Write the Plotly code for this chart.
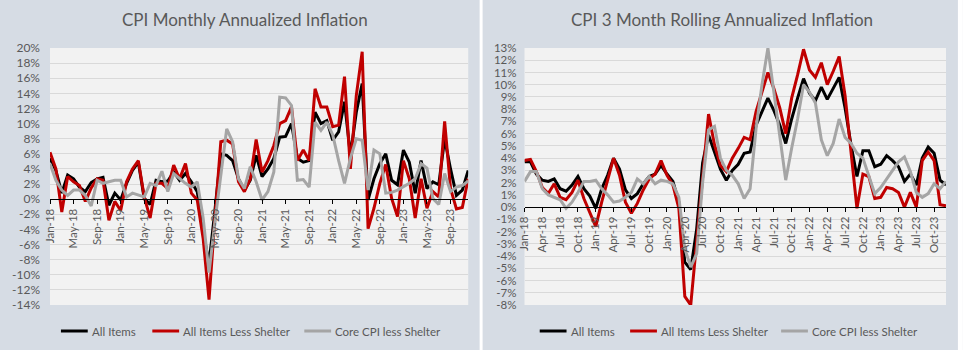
import plotly.graph_objects as go

# ---------------- data ----------------
mon_names = ["Jan", "Feb", "Mar", "Apr", "May", "Jun", "Jul", "Aug", "Sep", "Oct", "Nov", "Dec"]
years = ["18", "19", "20", "21", "22", "23"]
months = [f"{m}-{y}" for y in years for m in mon_names]

series_names = ["All Items", "All Items Less Shelter", "Core CPI less Shelter"]

# CPI monthly annualized inflation (%)
m_all = [5.4, 3.8, 0.8, 3.2, 2.7, 1.6, 1.0, 2.2, 2.7, 2.9, -0.8, 0.8,
         -0.1, 2.1, 3.8, 4.9, 0.1, -0.7, 2.5, 2.3, 2.4, 3.6, 2.5, 3.4,
         2.3, 1.0, -4.3, -8.5, -1.5, 6.0, 5.8, 5.1, 2.7, 1.2, 2.5, 5.8,
         3.0, 4.0, 5.4, 8.2, 8.3, 10.0, 5.4, 4.9, 5.1, 11.5, 10.0, 10.4,
         7.8, 8.9, 12.9, 5.8, 11.5, 15.3, -0.1, 2.7, 4.7, 6.0, 2.5, 1.9,
         6.5, 4.9, 0.8, 5.1, 1.4, 2.3, 1.9, 8.0, 4.0, 0.5, 1.2, 3.8]
m_less_shelter = [6.2, 4.0, -1.7, 3.0, 2.3, 1.8, -0.3, 1.5, 2.7, 2.5, -2.8, -0.3,
                  -1.5, 2.3, 4.0, 5.1, 0.3, -2.5, 2.1, 2.1, 1.4, 4.5, 2.7, 4.7,
                  0.8, -0.1, -5.2, -13.3, -2.5, 7.6, 7.8, 7.3, 2.3, 1.0, 2.7, 7.9,
                  3.6, 5.1, 7.1, 10.0, 10.4, 12.2, 5.1, 6.5, 5.1, 14.6, 12.2, 12.2,
                  9.6, 9.8, 16.2, 4.0, 13.7, 19.5, -3.9, -1.2, 2.1, 4.6, 0.1, -2.3,
                  5.1, 2.7, -2.5, 2.7, -1.2, 1.0, 0.3, 10.3, 1.4, -1.3, -1.1, 2.7]
m_core_less_shelter = [4.7, 2.5, 1.2, 0.5, 1.2, 1.2, 0.5, -0.9, 2.5, 2.1, 2.3, 2.5,
                       2.5, 0.3, 0.8, 0.5, 0.3, 2.1, 1.8, 3.7, 1.0, 3.4, 2.7, 2.1,
                       1.6, 2.3, -2.5, -9.7, -3.0, 3.5, 9.3, 7.6, 2.7, 1.4, 4.3, 2.3,
                       -0.1, 1.0, 3.6, 13.5, 13.4, 12.4, 2.5, 2.6, 1.6, 10.2, 9.1, 10.2,
                       8.5, 5.1, 2.1, 5.4, 8.0, 7.8, 1.2, 6.5, 6.0, 0.8, 0.9, 1.2,
                       1.6, 2.1, 2.7, 4.7, 4.1, 0.1, -0.7, 3.4, 1.0, 1.6, 1.8, 2.4]

# CPI 3 month rolling annualized inflation (%)
r_all = [3.7, 3.7, 2.7, 2.2, 2.1, 2.3, 1.5, 1.3, 1.8, 2.5, 1.5, 0.9,
         -0.1, 1.5, 2.6, 4.0, 3.1, 1.4, 0.7, 1.1, 1.9, 2.5, 2.7, 3.4,
         2.7, 2.1, 0.4, -4.5, -5.1, -1.8, 3.6, 5.9, 4.5, 3.1, 2.2, 3.0,
         3.5, 4.4, 4.5, 6.7, 7.8, 8.9, 7.9, 6.7, 5.2, 7.2, 8.9, 10.5,
         9.3, 8.7, 9.8, 8.8, 9.7, 10.6, 8.1, 5.1, 2.5, 4.6, 4.6, 3.3,
         3.5, 4.2, 3.8, 3.3, 2.1, 2.7, 1.8, 4.0, 4.9, 4.4, 2.2, 1.8]
r_less_shelter = [3.8, 3.9, 2.9, 1.6, 1.1, 1.9, 0.8, 0.6, 1.2, 2.2, 0.7, -0.4,
                  -1.6, 0.4, 2.1, 4.0, 2.6, 0.4, -0.5, 0.3, 1.4, 2.3, 2.7, 3.8,
                  2.6, 1.8, -0.1, -7.3, -8.0, -2.8, 2.4, 7.6, 5.1, 3.4, 2.9, 4.0,
                  4.8, 5.7, 5.5, 7.8, 9.4, 11.0, 9.7, 8.1, 6.0, 8.9, 10.8, 12.9,
                  11.2, 10.6, 11.8, 10.0, 11.1, 12.3, 9.1, 4.2, -0.1, 2.7, 2.5, 0.7,
                  0.8, 1.6, 1.5, 1.2, 0.0, 1.2, 0.0, 3.8, 4.5, 3.8, 0.2, 0.1]
r_core_less_shelter = [2.1, 2.9, 2.9, 1.5, 1.0, 0.8, 0.6, -0.1, 0.4, 1.2, 2.1, 2.1,
                       2.2, 1.5, 1.0, 0.4, 0.5, 0.8, 1.2, 2.3, 1.9, 2.5, 1.9, 2.2,
                       2.1, 1.9, 0.8, -3.4, -4.9, -3.8, 2.0, 6.3, 6.6, 4.0, 3.0, 2.6,
                       1.9, 0.7, 1.5, 6.4, 10.0, 13.0, 9.4, 6.1, 2.2, 4.8, 7.2, 10.0,
                       9.4, 8.5, 5.5, 4.2, 5.2, 7.2, 5.7, 5.2, 4.4, 4.0, 2.5, 1.1,
                       1.6, 2.3, 2.9, 3.7, 4.1, 2.9, 1.2, 0.8, 1.1, 1.9, 1.5, 2.1]

left_tick_labels = months[::4]
right_tick_labels = months[::3]
left_yticks = list(range(-14, 21, 2))
right_yticks = list(range(-8, 14, 1))
left_ytext = [f"{v}%" for v in left_yticks]
right_ytext = [f"{v}%" for v in right_yticks]

titles = ["CPI Monthly Annualized Inflation", "CPI 3 Month Rolling Annualized Inflation"]

# ---------------- style ----------------
W, H = 963, 350
ML, MR, MT, MB = 44, 17, 48, 45
PW, PH = W - ML - MR, H - MT - MB
colors = ["#000000", "#C00000", "#A5A5A5"]
txt = "#595959"
FONT = "Lato"

def px_x(p):
    return (p - ML) / PW

def px_y(p):
    return (H - MB - p) / PH

fig = go.Figure()

left_series = [m_all, m_less_shelter, m_core_less_shelter]
right_series = [r_all, r_less_shelter, r_core_less_shelter]

for vals, name, col in zip(left_series, series_names, colors):
    fig.add_trace(go.Scatter(x=months, y=vals, name=name, mode="lines",
                             line=dict(color=col, width=3), showlegend=False,
                             xaxis="x", yaxis="y"))
for vals, name, col in zip(right_series, series_names, colors):
    fig.add_trace(go.Scatter(x=months, y=vals, name=name, mode="lines",
                             line=dict(color=col, width=3), showlegend=False,
                             xaxis="x2", yaxis="y2"))

ldom = [0, px_x(465)]
rdom = [px_x(521.7), 1]

common_x = dict(type="category", categoryorder="array", categoryarray=months,
                range=[0, len(months) - 1], showgrid=False, zeroline=False,
                showline=True, linecolor="black", linewidth=1,
                ticks="outside", ticklen=4, tickcolor="black", tickangle=-90,
                tickfont=dict(family=FONT, size=11.5, color=txt),
                tickmode="array", anchor="free")
common_y = dict(showgrid=True, gridcolor="#D9D9D9", gridwidth=1, zeroline=False,
                showline=False, ticks="",
                tickmode="array", domain=[0, 1])

fig.update_layout(
    width=W, height=H,
    margin=dict(l=ML, r=MR, t=MT, b=MB, pad=0),
    paper_bgcolor="#D6DCE4", plot_bgcolor="#F2F2F2",
    xaxis=dict(common_x, domain=ldom, tickvals=left_tick_labels, ticktext=left_tick_labels,
               position=14 / 34),
    yaxis=dict(common_y, range=[-14, 20], tickvals=left_yticks, ticktext=left_ytext,
               anchor="x", ticklabelstandoff=9,
               tickfont=dict(family=FONT, size=12, color=txt)),
    xaxis2=dict(common_x, domain=rdom, tickvals=right_tick_labels, ticktext=right_tick_labels,
                position=8 / 21),
    yaxis2=dict(common_y, range=[-8, 13], tickvals=right_yticks, ticktext=right_ytext,
                anchor="x2", ticklabelstandoff=7,
                tickfont=dict(family=FONT, size=11.5, color=txt)),
)

shapes = []
annotations = []
# panel separator
shapes.append(dict(type="rect", xref="paper", yref="paper", x0=px_x(476.5), x1=px_x(479.5),
                   y0=px_y(H), y1=px_y(0), fillcolor="#FFFFFF", line=dict(width=0), layer="below"))
shapes.append(dict(type="rect", xref="paper", yref="paper", x0=px_x(958), x1=px_x(W),
                   y0=px_y(H), y1=px_y(0), fillcolor="#FFFFFF", line=dict(width=0), layer="below"))

# titles
for t, cx in zip(titles, [240, 720]):
    annotations.append(dict(text=t, xref="paper", yref="paper", x=px_x(cx), y=px_y(20),
                            xanchor="center", yanchor="middle", showarrow=False,
                            font=dict(family=FONT, size=17, color=txt)))

# legends
leg_left = [55, 147, 300]
leg_right = [537, 628, 780]
for starts in (leg_left, leg_right):
    for s, name, col in zip(starts, series_names, colors):
        shapes.append(dict(type="line", xref="paper", yref="paper", x0=px_x(s), x1=px_x(s + 27),
                           y0=px_y(331), y1=px_y(331), line=dict(color=col, width=3)))
        annotations.append(dict(text=name, xref="paper", yref="paper", x=px_x(s + 29), y=px_y(331),
                                xanchor="left", yanchor="middle", showarrow=False,
                                font=dict(family=FONT, size=11.5, color=txt)))

fig.update_layout(shapes=shapes, annotations=annotations)
fig.write_html("out.html")
